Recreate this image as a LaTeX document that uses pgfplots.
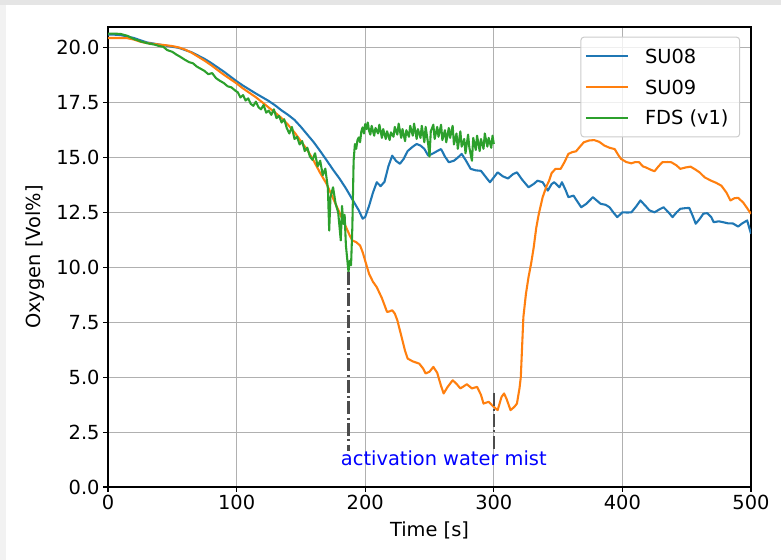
\documentclass[border=0pt]{standalone}
\usepackage{fontspec}
\setmainfont{DejaVu Sans}
\usepackage{pgfplots}
\usepackage{pgfplotstable}
\pgfplotsset{compat=1.18}
\definecolor{c0}{HTML}{1F77B4}
\definecolor{c1}{HTML}{FF7F0E}
\definecolor{c2}{HTML}{2CA02C}
\definecolor{gridc}{HTML}{B0B0B0}
\definecolor{legc}{HTML}{CCCCCC}
\definecolor{frameA}{HTML}{E5E5E5}
\definecolor{frameB}{HTML}{F2F2F2}
\newcommand{\mpl}{\fontsize{19.4bp}{23bp}\selectfont}

\pgfplotstableread{
t y
0 20.60
5 20.60
10 20.58
15 20.52
20 20.45
25 20.35
30 20.25
35 20.20
40 20.15
45 20.10
50 20.05
55 20.00
60 19.90
65 19.80
70 19.65
75 19.50
80 19.32
85 19.12
90 18.92
95 18.70
100 18.48
105 18.28
110 18.10
115 17.92
120 17.75
125 17.58
130 17.38
135 17.15
140 16.95
145 16.72
150 16.40
155 16.05
160 15.70
165 15.30
170 14.88
175 14.45
180 14.05
185 13.60
190 13.10
195 12.60
198 12.22
200 12.30
203 12.80
206 13.40
209 13.88
212 13.70
215 13.90
218 14.60
221 15.09
224 14.85
227 14.72
230 14.95
233 15.30
237 15.50
240 15.62
243 15.55
246 15.40
249 15.09
253 15.20
256 15.30
259 15.39
262 15.05
265 14.79
269 14.86
272 15.00
275 15.17
278 14.90
282 14.49
286 14.42
290 14.40
294 14.10
297 13.88
300 14.10
303 14.33
307 14.15
311 14.05
315 14.25
318 14.33
322 14.00
327 13.65
331 13.80
334 13.95
338 13.88
342 13.50
345 13.80
347 13.88
351 13.65
353 13.88
356 13.50
358 13.20
362 13.27
365 13.00
368 12.74
372 12.90
377 13.20
380 13.05
383 12.90
387 12.85
390 12.74
393 12.50
396 12.29
400 12.51
404 12.50
407 12.51
411 12.80
414 13.05
418 12.80
421 12.60
425 12.51
429 12.65
432 12.74
436 12.50
439 12.29
442 12.50
445 12.67
449 12.70
452 12.71
455 12.30
457 11.99
460 12.20
463 12.45
466 12.47
469 12.30
471 12.06
475 12.10
479 12.05
482 12.01
486 12.00
490 11.86
493 12.00
497 12.14
500 11.53
}\suA

\pgfplotstableread{
t y
0 20.45
5 20.45
10 20.45
15 20.44
20 20.38
25 20.28
30 20.22
35 20.18
40 20.15
45 20.12
50 20.08
55 20.02
60 19.92
65 19.78
70 19.60
75 19.42
80 19.22
85 19.00
90 18.78
95 18.58
100 18.38
105 18.15
110 17.95
115 17.75
120 17.52
125 17.28
130 17.05
135 16.80
140 16.50
145 16.15
150 15.75
155 15.35
160 14.85
165 14.30
170 13.80
175 13.15
180 12.50
185 11.85
188 11.45
190 11.23
193 11.15
196 11.00
198 10.70
200 10.30
203 9.71
206 9.35
209 9.10
213 8.60
217 7.97
219 8.00
221 8.05
223 7.90
225 7.59
228 6.90
231 6.20
233 5.85
237 5.72
242 5.62
245 5.40
247 5.17
250 5.25
253 5.47
256 5.20
259 4.60
261 4.26
264 4.55
268 4.86
271 4.70
274 4.49
277 4.60
279 4.68
283 4.49
287 4.56
290 4.20
292 3.80
296 3.88
299 3.70
303 3.50
306 4.10
308 4.26
310 4.00
313 3.50
316 3.65
318 3.80
320 4.50
321 5.01
323 7.74
325 8.80
327 9.56
329 10.17
331 10.90
333 11.80
335 12.44
338 13.20
341 13.70
343 13.95
345 14.30
348 14.49
352 14.49
355 14.80
358 15.17
361 15.25
364 15.29
367 15.50
370 15.70
374 15.78
378 15.80
382 15.72
386 15.55
390 15.45
394 15.39
397 15.10
399 14.94
403 14.80
407 14.74
410 14.80
413 14.79
416 14.60
418 14.56
422 14.45
425 14.38
428 14.60
431 14.79
435 14.80
438 14.79
442 14.65
445 14.49
449 14.55
453 14.59
457 14.45
460 14.33
464 14.10
469 13.95
473 13.85
477 13.72
481 13.40
484 13.05
487 13.15
490 13.17
494 12.95
497 12.70
500 12.44
}\suB

\pgfplotstableread{
t y
0 20.65
5 20.65
10 20.63
15 20.55
20 20.40
23 20.35
26 20.28
30 20.22
33 20.18
36 20.15
40 20.08
43 20.05
46 19.90
50 19.82
53 19.70
56 19.60
60 19.45
63 19.35
66 19.30
69 19.15
72 19.05
75 18.95
78 18.80
81 18.85
84 18.62
87 18.50
90 18.40
93 18.25
96 18.20
99 18.05
101 17.97
103 17.74
105 17.85
107 17.60
109 17.70
111 17.45
113 17.36
115 17.55
117 17.30
119 17.20
121 17.40
123 17.05
125 17.14
127 16.95
129 17.20
131 16.80
133 16.90
135 16.60
137 16.75
139 16.35
141 16.10
143 16.40
145 15.85
147 15.95
149 15.60
151 15.75
153 15.30
155 15.45
157 15.05
159 14.90
161 15.20
163 14.60
165 14.86
167 14.20
169 14.50
171 13.60
172 11.68
173 13.20
175 13.65
177 12.90
179 12.50
181 11.23
182 12.80
183 11.98
184 12.40
185 11.00
186 10.40
187 9.80
188 10.30
189 10.10
190 11.83
191 14.86
192 15.62
193 15.40
194 15.80
195 15.92
196 15.70
197 16.20
198 16.38
199 16.10
200 16.53
201 16.30
202 16.60
203 16.23
204 16.05
205 16.45
207 16.00
208 16.35
210 16.10
211 16.50
213 15.90
214 16.30
216 15.85
217 16.20
219 15.80
220 16.15
222 15.95
223 16.40
225 16.05
226 16.55
228 15.90
229 16.30
231 15.75
232 16.25
234 15.95
235 16.45
237 16.00
238 16.55
240 15.85
241 16.30
243 15.90
244 16.45
246 15.70
247 16.40
249 15.60
250 15.05
251 16.20
253 16.50
254 15.85
256 16.40
257 15.95
259 16.50
260 15.80
262 16.25
263 15.70
265 16.35
266 15.90
268 16.45
269 15.60
271 16.10
272 15.40
274 16.20
275 15.50
277 15.85
278 15.20
280 16.05
281 15.45
283 14.86
284 15.90
286 15.35
287 16.00
289 15.30
290 15.85
292 15.40
293 16.10
295 15.50
296 15.90
298 15.45
299 16.00
300 15.62
}\fds

\begin{document}
\begin{tikzpicture}
\useasboundingbox (0bp,0bp) rectangle (781bp,560bp);
\fill[white] (0bp,0bp) rectangle (781bp,560bp);
\fill[frameB] (0bp,0bp) rectangle (6bp,560bp);
\fill[frameA] (0bp,555bp) rectangle (781bp,560bp);
\begin{axis}[
  at={(108bp,73bp)}, anchor=south west,
  width=643bp, height=460bp, scale only axis,
  xmin=0, xmax=500, ymin=0, ymax=20.95,
  xtick={0,100,200,300,400,500},
  ytick={0,2.5,5,7.5,10,12.5,15,17.5,20},
  yticklabel style={/pgf/number format/fixed, /pgf/number format/fixed zerofill, /pgf/number format/precision=1},
  /pgf/number format/assume math mode=true,
  tick label style={font=\mpl, text=black},
  xtick pos=bottom, ytick pos=left,
  tick align=outside,
  major tick length=4.9bp,
  every tick/.style={black, line width=1.1bp},
  axis line style={line width=1.1bp, black},
  grid=major,
  major grid style={gridc, line width=1.1bp},
  xlabel={Time [s]},
  ylabel={Oxygen [Vol\%]},
  every axis x label/.style={at={(axis description cs:0.5,-0.0935)}, anchor=center, font=\mpl},
  every axis y label/.style={at={(axis description cs:-0.1135,0.5)}, anchor=center, rotate=90, font=\mpl},
  legend style={at={(0.983,0.979)}, anchor=north east, draw=legc, line width=1bp, rounded corners=3bp,
    fill=white, fill opacity=0.8, text opacity=1, font=\mpl,
    inner xsep=4bp, inner ysep=7.5bp, row sep=7bp, column sep=9bp,
    nodes={inner sep=3bp}},
  legend cell align=left,
  legend image code/.code={\draw[#1] (0bp,0bp) -- (42bp,0bp); \path (46bp,0bp);},
]
\addplot[c0, line width=2.08bp, line join=round] table[x=t,y=y] {\suA};
\addlegendentry{\strut SU08}
\addplot[c1, line width=2.08bp, line join=round] table[x=t,y=y] {\suB};
\addlegendentry{\strut SU09}
\addplot[c2, line width=2.08bp, line join=round] table[x=t,y=y] {\fds};
\addlegendentry{\strut FDS (v1)\hspace*{4bp}}
\addplot[forget plot, black!70, line width=2.08bp, dash pattern=on 13bp off 3.3bp on 2bp off 3.3bp] coordinates {(187,9.8) (187,1.65)};
\addplot[forget plot, black!70, line width=2.08bp, dash pattern=on 13bp off 3.3bp on 2bp off 3.3bp] coordinates {(300,4.3) (300,1.65)};
\node[anchor=base west, text=blue, font=\mpl, inner sep=0pt] at (axis cs:181,1.0) {activation water mist};
\end{axis}
\end{tikzpicture}
\end{document}
